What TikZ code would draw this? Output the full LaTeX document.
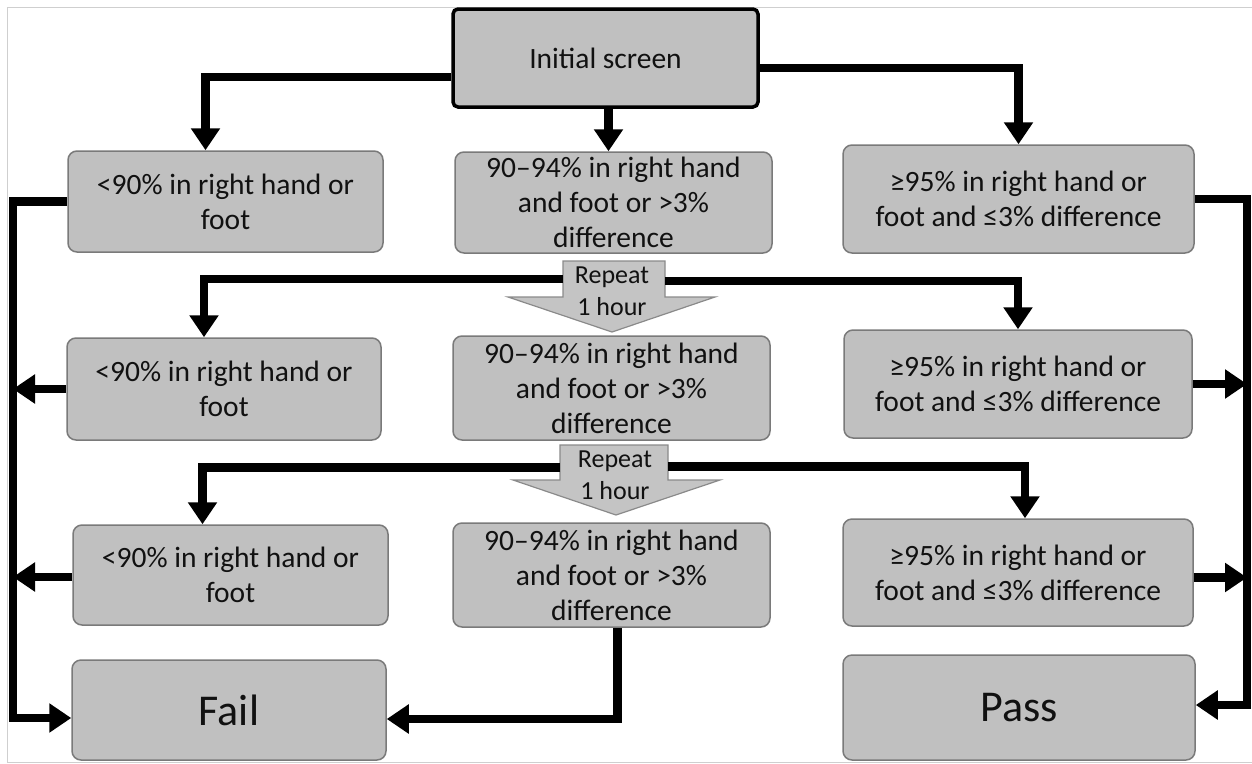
\documentclass[tikz,border=0pt]{standalone}
\usepackage{fontspec}
\setmainfont{Carlito}
\usetikzlibrary{arrows.meta}
\definecolor{boxfill}{HTML}{C0C0C0}
\definecolor{boxline}{HTML}{7A7A7A}
\definecolor{repfill}{HTML}{C4C4C4}
\definecolor{repline}{HTML}{8A8A8A}
\definecolor{txt}{HTML}{111111}
\definecolor{frame}{HTML}{CFCFCF}
\begin{document}
\begin{tikzpicture}[x=1pt,y=-1pt,
  box/.style={draw=boxline, line width=1.5pt, fill=boxfill, rounded corners=9pt,
    align=center, text=txt, inner sep=0pt, font=\fontsize{29.5}{35}\selectfont},
  bigbox/.style={box, font=\fontsize{44}{50}\selectfont},
  initbox/.style={box, draw=black, line width=3.5pt, rounded corners=5pt},
  reprect/.style={inner sep=0pt, outer sep=0pt},
  reptxt/.style={align=center, text=txt, inner sep=0pt, font=\fontsize{26}{32}\selectfont},
  conn/.style={line width=8.5pt, draw=black},
  arr/.style={conn, -{Triangle[length=22pt,width=28pt]}},
  reparrow/.style={draw=repline, fill=repfill, line width=1.2pt}
]
\useasboundingbox (0,0) rectangle (1252,763);
\draw[frame, line width=1pt] (1252,7) -- (7,7) -- (7,762) -- (1252,762);

% nodes
\node[initbox, minimum width=305pt, minimum height=98pt] (init) at (605.5,58) {Initial screen};

\node[box, minimum width=315pt, minimum height=101pt] (a1) at (225.5,201.5) {<90\% in right hand or\\foot};
\node[box, minimum width=317pt, minimum height=101pt] (b1) at (613.5,202.5) {90–94\% in right hand\\and foot or >3\%\\difference};
\node[box, minimum width=351pt, minimum height=108pt] (c1) at (1018.5,199) {≥95\% in right hand or\\foot and ≤3\% difference};

\node[box, minimum width=314pt, minimum height=102pt] (a2) at (224,389) {<90\% in right hand or\\foot};
\node[box, minimum width=317pt, minimum height=104pt] (b2) at (611.5,388) {90–94\% in right hand\\and foot or >3\%\\difference};
\node[box, minimum width=348pt, minimum height=108pt] (c2) at (1018,384) {≥95\% in right hand or\\foot and ≤3\% difference};

\node[box, minimum width=315pt, minimum height=100pt] (a3) at (230.5,575) {<90\% in right hand or\\foot};
\node[box, minimum width=317pt, minimum height=104pt] (b3) at (611.5,575) {90–94\% in right hand\\and foot or >3\%\\difference};
\node[box, minimum width=350pt, minimum height=107pt] (c3) at (1018,572.5) {≥95\% in right hand or\\foot and ≤3\% difference};

\node[bigbox, minimum width=314pt, minimum height=100pt] (fail) at (229,710) {Fail};
\node[bigbox, minimum width=352pt, minimum height=105pt] (pass) at (1019,707.5) {Pass};

% repeat arrows
\node[reprect, minimum width=102pt, minimum height=36pt] (r1) at (614,279) {};
\path[reparrow] (r1.north west) -- (r1.north east) -- (r1.south east) -- (715,297) -- (612,332) -- (508,297) -- (r1.south west) -- cycle;
\node[reptxt] (r1t) at (612,291) {Repeat\\1 hour};

\node[reprect, minimum width=108pt, minimum height=35pt] (r2) at (614,462.5) {};
\path[reparrow] (r2.north west) -- (r2.north east) -- (r2.south east) -- (720,480) -- (616,515) -- (513,480) -- (r2.south west) -- cycle;
\node[reptxt] (r2t) at (615,475) {Repeat\\1 hour};

% bus coordinates
\coordinate (lb) at (13,0);
\coordinate (rb) at (1247,0);

% connectors from initial screen
\draw[arr] ([yshift=-19pt]init.west) -| ([xshift=-20pt]a1.north);
\draw[arr] ([xshift=3pt]init.south) -- ([xshift=3pt]init.south |- b1.north);
\draw[arr] ([yshift=-10pt]init.east) -| (c1.north);

% connectors from repeat arrows
\draw[arr] (r1.west) -| ([xshift=-20pt]a2.north);
\draw[arr] ([yshift=-2pt]r1.east) -| (c2.north);
\draw[arr] ([yshift=-5pt]r2.west) -| ([xshift=-28pt]a3.north);
\draw[arr] ([yshift=-4pt]r2.east) -| ([xshift=7pt]c3.north);

% fail side
\draw[arr] (a1.west) -- (a1.west -| lb) |- ([yshift=-8pt]fail.west);
\draw[arr] (a2.west) -- (a2.west -| lb);
\draw[arr] ([yshift=-2pt]a3.west) -- ([yshift=-2pt]a3.west -| lb);
\draw[arr] ([xshift=6pt]b3.south) |- ([yshift=-9pt]fail.east);

% pass side
\draw[arr] (c1.east) -- (c1.east -| rb) |- ([yshift=2.5pt]pass.east);
\draw[arr] (c2.east) -- (c2.east -| rb);
\draw[arr] ([yshift=-5pt]c3.east) -- ([yshift=-5pt]c3.east -| rb);
\end{tikzpicture}
\end{document}
